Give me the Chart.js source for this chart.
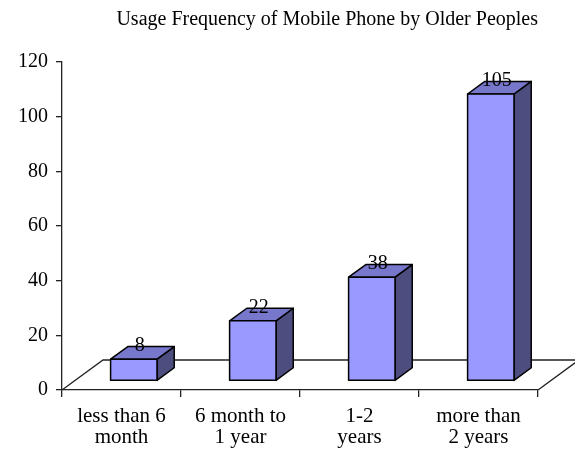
<!DOCTYPE html>
<html>
<head>
<meta charset="utf-8">
<script src="https://cdn.jsdelivr.net/npm/chart.js@4/dist/chart.umd.min.js"></script>
<style>
  html, body { margin: 0; padding: 0; background: #fff; }
  #wrap { width: 575px; height: 449px; }
</style>
</head>
<body>
<div id="wrap"><canvas id="usageChart" width="575" height="449"></canvas></div>
<script>
// Data
const categories = [['less than 6', 'month'], ['6 month to', '1 year'], ['1-2', 'years'], ['more than', '2 years']];
const counts     = [8, 22, 38, 105];
const yMin = 0, yMax = 120, yStep = 20;
const chartTitle = 'Usage Frequency of Mobile Phone by Older Peoples';

// 3D look (Excel style)
const FONT   = 'Liberation Serif, Times New Roman, serif';
const DEPTH  = { dx: 41, dy: -30 };   // floor depth
const FRONT  = 0.30, BACK = 0.72;     // where the bars sit inside the floor depth
const COLORS = { front: '#9999FF', top: '#7777CC', side: '#4D4D80', edge: '#000' };

// floor parallelogram behind the bars
const floorPlugin = {
  id: 'floor',
  beforeDatasetsDraw(chart) {
    const { ctx, chartArea: a } = chart;
    ctx.save();
    ctx.strokeStyle = '#222';
    ctx.lineWidth = 1.3;
    ctx.beginPath();
    ctx.moveTo(a.left, a.bottom);
    ctx.lineTo(a.left + DEPTH.dx, a.bottom + DEPTH.dy);
    ctx.lineTo(a.right + DEPTH.dx, a.bottom + DEPTH.dy);
    ctx.lineTo(a.right, a.bottom);
    ctx.stroke();
    ctx.restore();
  }
};

// boxes drawn from the bar elements Chart.js has laid out
const boxPlugin = {
  id: 'boxes',
  afterDatasetsDraw(chart) {
    const { ctx } = chart;
    const meta = chart.getDatasetMeta(0);
    const ox = DEPTH.dx * FRONT, oy = DEPTH.dy * FRONT;
    const bx = DEPTH.dx * (BACK - FRONT), by = DEPTH.dy * (BACK - FRONT);
    ctx.save();
    ctx.lineWidth = 1.5;
    ctx.lineJoin = 'round';
    ctx.strokeStyle = COLORS.edge;
    meta.data.forEach((bar, i) => {
      const L = bar.x - bar.width / 2 + ox, R = bar.x + bar.width / 2 + ox;
      const T = bar.y + oy, B = bar.base + oy;

      const poly = (pts, fill) => {
        ctx.beginPath();
        ctx.moveTo(pts[0][0], pts[0][1]);
        pts.slice(1).forEach(p => ctx.lineTo(p[0], p[1]));
        ctx.closePath();
        ctx.fillStyle = fill;
        ctx.fill();
        ctx.stroke();
      };
      poly([[R, T], [R + bx, T + by], [R + bx, B + by], [R, B]], COLORS.side);
      poly([[L, T], [L + bx, T + by], [R + bx, T + by], [R, T]], COLORS.top);
      poly([[L, T], [R, T], [R, B], [L, B]], COLORS.front);

      ctx.fillStyle = '#000';
      ctx.font = '20px ' + FONT;
      ctx.textAlign = 'center';
      ctx.textBaseline = 'middle';
      ctx.fillText(String(counts[i]), bar.x + ox + 6, bar.y - 22);
    });
    ctx.restore();
  }
};

new Chart(document.getElementById('usageChart'), {
  type: 'bar',
  data: {
    labels: categories,
    datasets: [{
      data: counts,
      backgroundColor: 'rgba(0,0,0,0)',
      borderWidth: 0,
      categoryPercentage: 1,
      barPercentage: 0.39
    }]
  },
  options: {
    responsive: false,
    animation: false,
    layout: { padding: { left: 0, right: 37, top: 0, bottom: 0 } },
    plugins: {
      legend:  { display: false },
      tooltip: { enabled: false },
      title: {
        display: true,
        text: chartTitle,
        align: 'end',
        color: '#000',
        font: { family: FONT, size: 20, weight: 'normal' },
        padding: { top: 8, bottom: 30 }
      }
    },
    scales: {
      x: {
        offset: true,
        border: { display: true, color: '#222', width: 1.3 },
        grid: { offset: true, drawOnChartArea: false, drawTicks: true, tickLength: 7, color: '#222', lineWidth: 1.3 },
        ticks: {
          color: '#000',
          padding: 9,
          maxRotation: 0,
          autoSkip: false,
          font: { family: FONT, size: 21, lineHeight: 1.0 }
        },
        afterFit(scale) { scale.height = 59; }
      },
      y: {
        min: yMin,
        max: yMax,
        border: { display: true, color: '#222', width: 1.3 },
        grid: { drawOnChartArea: false, drawTicks: true, tickLength: 6, color: '#222', lineWidth: 1.3 },
        ticks: {
          stepSize: yStep,
          color: '#000',
          padding: 8,
          font: { family: FONT, size: 20 }
        },
        afterFit(scale) { scale.width = 62; }
      }
    }
  },
  plugins: [floorPlugin, boxPlugin]
});
</script>
</body>
</html>
